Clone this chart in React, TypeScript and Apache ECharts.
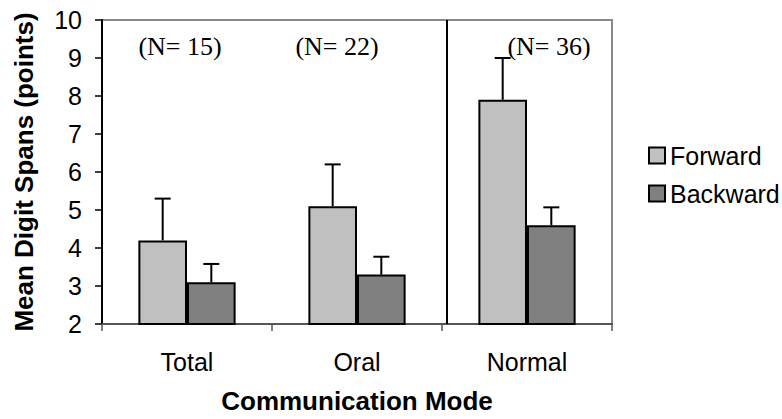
import React, { useEffect, useRef } from "react";
import * as echarts from "echarts";

const categories = ["Total", "Oral", "Normal"];
const forwardMeans = [4.2, 5.1, 7.9];
const forwardUpper = [5.3, 6.2, 9.0];
const backwardMeans = [3.1, 3.3, 4.6];
const backwardUpper = [3.58, 3.77, 5.07];
const sampleSizes = [15, 22, 36];
const nLabelOffsets = [-7, -20, 22];

const SANS = "'Liberation Sans', Arial, sans-serif";
const SERIF = "'Liberation Serif', 'Times New Roman', serif";
const BAR_FRAC = 0.286;

function errorBarSeries(name: string, means: number[], uppers: number[], side: number) {
  return {
    type: "custom",
    name: name + "-err",
    z: 5,
    silent: true,
    data: means.map((m, i) => [i, m, uppers[i]]),
    renderItem: (params: any, api: any) => {
      const cat = api.value(0);
      const lo = api.coord([cat, api.value(1)]);
      const hi = api.coord([cat, api.value(2)]);
      const bw = api.size([1, 0])[0] * BAR_FRAC;
      const x = lo[0] + side * bw / 2;
      const cap = 8;
      const style = { stroke: "#000", lineWidth: 2 };
      return {
        type: "group",
        children: [
          { type: "line", shape: { x1: x, y1: lo[1], x2: x, y2: hi[1] }, style },
          { type: "line", shape: { x1: x - cap, y1: hi[1], x2: x + cap, y2: hi[1] }, style },
        ],
      };
    },
  };
}

export default function App() {
  const ref = useRef<HTMLDivElement>(null);
  useEffect(() => {
    if (!ref.current) return;
    const chart = echarts.init(ref.current, null, { renderer: "svg" });
    chart.setOption({
      animation: false,
      backgroundColor: "#fff",
      grid: {
        left: 102,
        right: 170,
        top: 20,
        bottom: 95,
        show: true,
        borderColor: "#888",
        borderWidth: 2,
        containLabel: false,
        outerBoundsMode: "none",
      },
      legend: {
        data: ["Forward", "Backward"],
        orient: "vertical",
        left: 643,
        top: 138,
        itemWidth: 16,
        itemHeight: 16,
        itemGap: 13,
        icon: "rect",
        itemStyle: { borderColor: "#000", borderWidth: 2 },
        textStyle: { fontFamily: SANS, fontSize: 25, color: "#000" },
      },
      xAxis: {
        type: "category",
        data: categories,
        name: "Communication Mode",
        nameLocation: "middle",
        nameGap: 64,
        nameTextStyle: { fontFamily: SANS, fontSize: 26, fontWeight: "bold", color: "#000" },
        axisLine: { lineStyle: { color: "#555", width: 2 } },
        axisTick: { show: true, alignWithLabel: false, length: 7, lineStyle: { color: "#555", width: 1.5 } },
        axisLabel: { fontFamily: SANS, fontSize: 25, color: "#000", margin: 25 },
      },
      yAxis: {
        type: "value",
        min: 2,
        max: 10,
        interval: 1,
        name: "Mean Digit Spans (points)",
        nameLocation: "middle",
        nameGap: 65,
        nameTextStyle: { fontFamily: SANS, fontSize: 26, fontWeight: "bold", color: "#000" },
        splitLine: { show: false },
        axisLine: { show: true, lineStyle: { color: "#000", width: 2 } },
        axisTick: { show: true, length: 7, lineStyle: { color: "#000", width: 1.5 } },
        axisLabel: { fontFamily: SANS, fontSize: 25, color: "#000", margin: 20 },
      },
      series: [
        {
          name: "Forward",
          type: "bar",
          data: forwardMeans,
          barWidth: "28.6%",
          barGap: "0%",
          itemStyle: { color: "#C0C0C0", borderColor: "#000", borderWidth: 2 },
        },
        {
          name: "Backward",
          type: "bar",
          data: backwardMeans,
          barWidth: "28.6%",
          barGap: "0%",
          itemStyle: { color: "#808080", borderColor: "#000", borderWidth: 2 },
        },
        errorBarSeries("Forward", forwardMeans, forwardUpper, -1),
        errorBarSeries("Backward", backwardMeans, backwardUpper, 1),
        {
          type: "custom",
          name: "separator",
          silent: true,
          z: 4,
          data: [[1]],
          renderItem: (params: any, api: any) => {
            const c = api.coord([api.value(0), 2]);
            const half = api.size([1, 0])[0] / 2;
            const cs = params.coordSys;
            const x = c[0] + half + 5;
            return {
              type: "line",
              shape: { x1: x, y1: cs.y, x2: x, y2: cs.y + cs.height },
              style: { stroke: "#000", lineWidth: 2 },
            };
          },
        },
        {
          type: "custom",
          name: "nlabels",
          silent: true,
          z: 6,
          data: sampleSizes.map((n, i) => [i, n]),
          renderItem: (params: any, api: any) => {
            const i = api.value(0);
            const c = api.coord([i, 2]);
            const cs = params.coordSys;
            return {
              type: "text",
              x: c[0] + nLabelOffsets[i],
              y: cs.y + 26,
              style: {
                text: "(N= " + api.value(1) + ")",
                fontFamily: SERIF,
                fontSize: 26,
                fill: "#000",
                align: "center",
                verticalAlign: "middle",
              },
            };
          },
        },
      ],
    });
    return () => chart.dispose();
  }, []);
  return (
    <div
      ref={ref}
      style={{ position: "fixed", left: 0, top: 0, width: 782, height: 419, background: "#fff" }}
    />
  );
}
